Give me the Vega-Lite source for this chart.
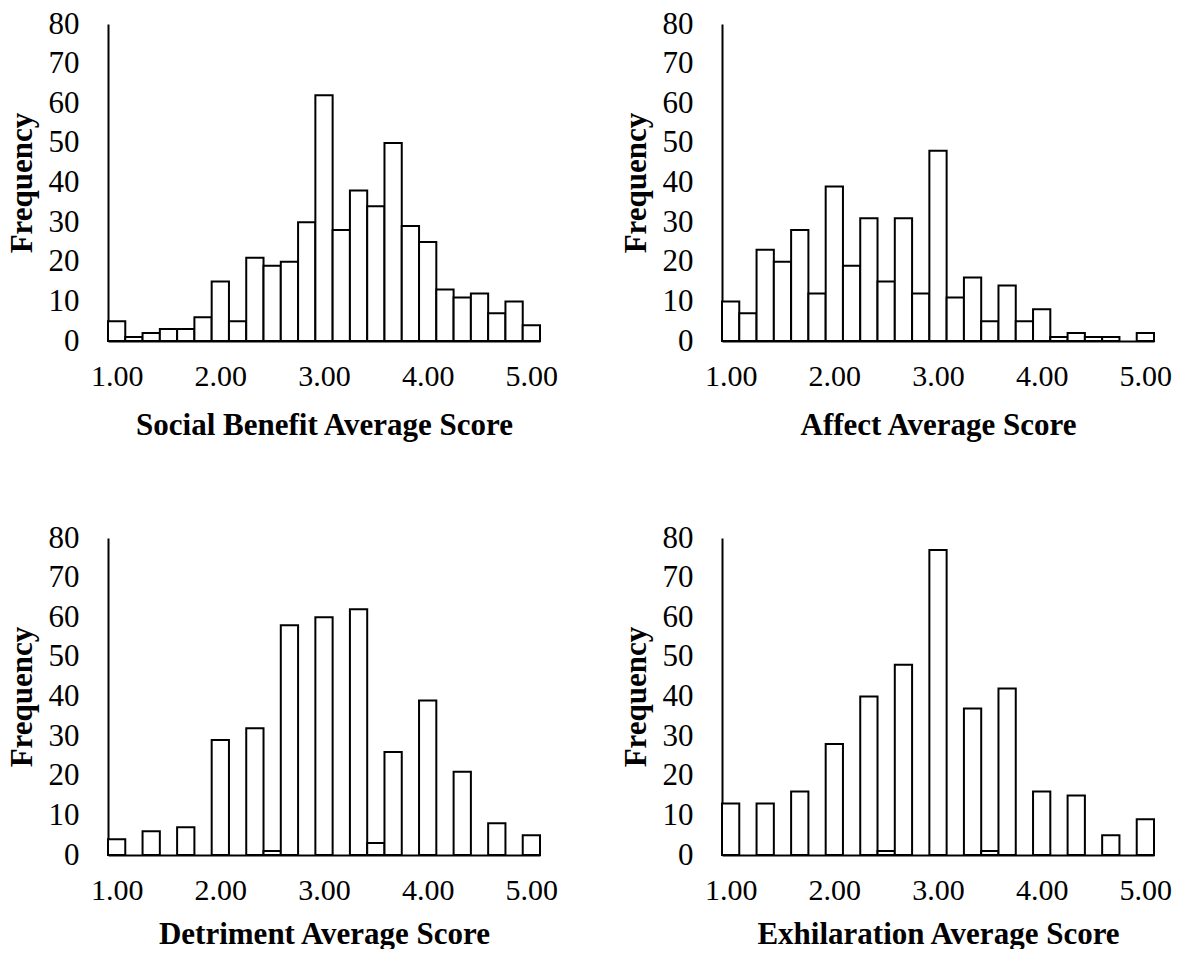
{
  "$schema": "https://vega.github.io/schema/vega-lite/v6.json",
  "background": "white",
  "padding": {"left": 6, "top": 8, "right": 0, "bottom": 0},
  "columns": 2,
  "spacing": {"row": 82, "column": 62},
  "config": {
    "view": {"stroke": null},
    "axis": {
      "labelFont": "Liberation Serif", "labelFontSize": 30, "labelColor": "black",
      "titleFont": "Liberation Serif", "titleFontSize": 31, "titleFontWeight": "bold", "titleColor": "black",
      "domainColor": "black", "domainWidth": 2, "ticks": false, "grid": false,
      "labelFlush": false, "labelOverlap": false, "labelBound": false
    },
    "axisY": {"labelPadding": 29, "titlePadding": 10, "labelFontSize": 31},
    "axisX": {"labelPadding": 20, "titlePadding": 19},
    "bar": {"fill": "white", "stroke": "black", "strokeWidth": 2}
  },
  "concat": [
    {
      "width": 432, "height": 317,
      "data": {"values": [
        {"lo": 0.9167, "hi": 1.0833, "freq": 5}, {"lo": 1.0833, "hi": 1.25, "freq": 1}, {"lo": 1.25, "hi": 1.4167, "freq": 2},
        {"lo": 1.4167, "hi": 1.5833, "freq": 3}, {"lo": 1.5833, "hi": 1.75, "freq": 3}, {"lo": 1.75, "hi": 1.9167, "freq": 6},
        {"lo": 1.9167, "hi": 2.0833, "freq": 15}, {"lo": 2.0833, "hi": 2.25, "freq": 5}, {"lo": 2.25, "hi": 2.4167, "freq": 21},
        {"lo": 2.4167, "hi": 2.5833, "freq": 19}, {"lo": 2.5833, "hi": 2.75, "freq": 20}, {"lo": 2.75, "hi": 2.9167, "freq": 30},
        {"lo": 2.9167, "hi": 3.0833, "freq": 62}, {"lo": 3.0833, "hi": 3.25, "freq": 28}, {"lo": 3.25, "hi": 3.4167, "freq": 38},
        {"lo": 3.4167, "hi": 3.5833, "freq": 34}, {"lo": 3.5833, "hi": 3.75, "freq": 50}, {"lo": 3.75, "hi": 3.9167, "freq": 29},
        {"lo": 3.9167, "hi": 4.0833, "freq": 25}, {"lo": 4.0833, "hi": 4.25, "freq": 13}, {"lo": 4.25, "hi": 4.4167, "freq": 11},
        {"lo": 4.4167, "hi": 4.5833, "freq": 12}, {"lo": 4.5833, "hi": 4.75, "freq": 7}, {"lo": 4.75, "hi": 4.9167, "freq": 10},
        {"lo": 4.9167, "hi": 5.0833, "freq": 4}
      ]},
      "mark": {"type": "bar"},
      "encoding": {
        "x": {"field": "lo", "type": "quantitative", "scale": {"domain": [0.9167, 5.0833], "nice": false, "zero": false},
              "axis": {"values": [1, 2, 3, 4, 5], "format": ".2f", "title": "Social Benefit Average Score"}},
        "x2": {"field": "hi"},
        "y": {"field": "freq", "type": "quantitative", "scale": {"domain": [0, 80], "nice": false},
              "axis": {"values": [0, 10, 20, 30, 40, 50, 60, 70, 80], "title": "Frequency"}},
        "y2": {"datum": 0}
      }
    },
    {
      "width": 432, "height": 317,
      "data": {"values": [
        {"lo": 0.9167, "hi": 1.0833, "freq": 10}, {"lo": 1.0833, "hi": 1.25, "freq": 7}, {"lo": 1.25, "hi": 1.4167, "freq": 23},
        {"lo": 1.4167, "hi": 1.5833, "freq": 20}, {"lo": 1.5833, "hi": 1.75, "freq": 28}, {"lo": 1.75, "hi": 1.9167, "freq": 12},
        {"lo": 1.9167, "hi": 2.0833, "freq": 39}, {"lo": 2.0833, "hi": 2.25, "freq": 19}, {"lo": 2.25, "hi": 2.4167, "freq": 31},
        {"lo": 2.4167, "hi": 2.5833, "freq": 15}, {"lo": 2.5833, "hi": 2.75, "freq": 31}, {"lo": 2.75, "hi": 2.9167, "freq": 12},
        {"lo": 2.9167, "hi": 3.0833, "freq": 48}, {"lo": 3.0833, "hi": 3.25, "freq": 11}, {"lo": 3.25, "hi": 3.4167, "freq": 16},
        {"lo": 3.4167, "hi": 3.5833, "freq": 5}, {"lo": 3.5833, "hi": 3.75, "freq": 14}, {"lo": 3.75, "hi": 3.9167, "freq": 5},
        {"lo": 3.9167, "hi": 4.0833, "freq": 8}, {"lo": 4.0833, "hi": 4.25, "freq": 1}, {"lo": 4.25, "hi": 4.4167, "freq": 2},
        {"lo": 4.4167, "hi": 4.5833, "freq": 1}, {"lo": 4.5833, "hi": 4.75, "freq": 1},
        {"lo": 4.9167, "hi": 5.0833, "freq": 2}
      ]},
      "mark": {"type": "bar"},
      "encoding": {
        "x": {"field": "lo", "type": "quantitative", "scale": {"domain": [0.9167, 5.0833], "nice": false, "zero": false},
              "axis": {"values": [1, 2, 3, 4, 5], "format": ".2f", "title": "Affect Average Score"}},
        "x2": {"field": "hi"},
        "y": {"field": "freq", "type": "quantitative", "scale": {"domain": [0, 80], "nice": false},
              "axis": {"values": [0, 10, 20, 30, 40, 50, 60, 70, 80], "title": "Frequency"}},
        "y2": {"datum": 0}
      }
    },
    {
      "width": 432, "height": 317,
      "data": {"values": [
        {"lo": 0.9167, "hi": 1.0833, "freq": 4}, {"lo": 1.25, "hi": 1.4167, "freq": 6}, {"lo": 1.5833, "hi": 1.75, "freq": 7},
        {"lo": 1.9167, "hi": 2.0833, "freq": 29}, {"lo": 2.25, "hi": 2.4167, "freq": 32}, {"lo": 2.4167, "hi": 2.5833, "freq": 1},
        {"lo": 2.5833, "hi": 2.75, "freq": 58}, {"lo": 2.9167, "hi": 3.0833, "freq": 60}, {"lo": 3.25, "hi": 3.4167, "freq": 62},
        {"lo": 3.4167, "hi": 3.5833, "freq": 3}, {"lo": 3.5833, "hi": 3.75, "freq": 26}, {"lo": 3.9167, "hi": 4.0833, "freq": 39},
        {"lo": 4.25, "hi": 4.4167, "freq": 21}, {"lo": 4.5833, "hi": 4.75, "freq": 8}, {"lo": 4.9167, "hi": 5.0833, "freq": 5}
      ]},
      "mark": {"type": "bar"},
      "encoding": {
        "x": {"field": "lo", "type": "quantitative", "scale": {"domain": [0.9167, 5.0833], "nice": false, "zero": false},
              "axis": {"values": [1, 2, 3, 4, 5], "format": ".2f", "title": "Detriment Average Score", "titlePadding": 14}},
        "x2": {"field": "hi"},
        "y": {"field": "freq", "type": "quantitative", "scale": {"domain": [0, 80], "nice": false},
              "axis": {"values": [0, 10, 20, 30, 40, 50, 60, 70, 80], "title": "Frequency"}},
        "y2": {"datum": 0}
      }
    },
    {
      "width": 432, "height": 317,
      "data": {"values": [
        {"lo": 0.9167, "hi": 1.0833, "freq": 13}, {"lo": 1.25, "hi": 1.4167, "freq": 13}, {"lo": 1.5833, "hi": 1.75, "freq": 16},
        {"lo": 1.9167, "hi": 2.0833, "freq": 28}, {"lo": 2.25, "hi": 2.4167, "freq": 40}, {"lo": 2.4167, "hi": 2.5833, "freq": 1},
        {"lo": 2.5833, "hi": 2.75, "freq": 48}, {"lo": 2.9167, "hi": 3.0833, "freq": 77}, {"lo": 3.25, "hi": 3.4167, "freq": 37},
        {"lo": 3.4167, "hi": 3.5833, "freq": 1}, {"lo": 3.5833, "hi": 3.75, "freq": 42}, {"lo": 3.9167, "hi": 4.0833, "freq": 16},
        {"lo": 4.25, "hi": 4.4167, "freq": 15}, {"lo": 4.5833, "hi": 4.75, "freq": 5}, {"lo": 4.9167, "hi": 5.0833, "freq": 9}
      ]},
      "mark": {"type": "bar"},
      "encoding": {
        "x": {"field": "lo", "type": "quantitative", "scale": {"domain": [0.9167, 5.0833], "nice": false, "zero": false},
              "axis": {"values": [1, 2, 3, 4, 5], "format": ".2f", "title": "Exhilaration Average Score", "titlePadding": 14}},
        "x2": {"field": "hi"},
        "y": {"field": "freq", "type": "quantitative", "scale": {"domain": [0, 80], "nice": false},
              "axis": {"values": [0, 10, 20, 30, 40, 50, 60, 70, 80], "title": "Frequency"}},
        "y2": {"datum": 0}
      }
    }
  ]
}
